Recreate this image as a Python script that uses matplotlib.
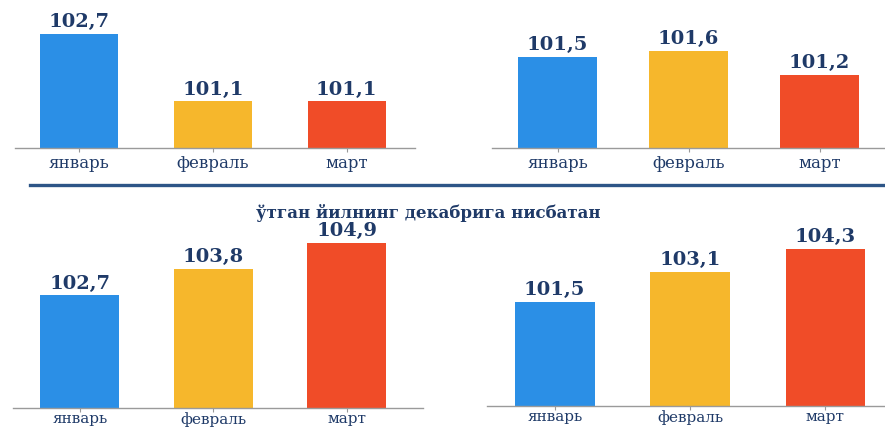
import matplotlib.pyplot as plt
from matplotlib.lines import Line2D

# данные
months = ["январь", "февраль", "март"]
tl_vals = [102.7, 101.1, 101.1]   # верх слева
tr_vals = [101.5, 101.6, 101.2]   # верх справа
bl_vals = [102.7, 103.8, 104.9]   # низ слева
br_vals = [101.5, 103.1, 104.3]   # низ справа
title_mid = "ўтган йилнинг декабрига нисбатан"

colors = ["#2b8fe6", "#f6b72c", "#f04c28"]
navy = "#1f3a68"
W, H = 885, 429

fig = plt.figure(figsize=(W / 100, H / 100), dpi=100)


def px_axes(x0, x1, y_top, y_base):
    # прямоугольник осей в пикселях -> доли фигуры
    return fig.add_axes([x0 / W, 1 - y_base / H, (x1 - x0) / W, (y_base - y_top) / H])


def panel(ax, vals, ylim, xlim, width, lab_size=12, pad=2):
    x = range(len(vals))
    ax.bar(x, [v - ylim[0] for v in vals], bottom=ylim[0], width=width, color=colors)
    for xi, v in zip(x, vals):
        ax.annotate(f"{v:.1f}".replace(".", ","), (xi, v), xytext=(0, 2),
                    textcoords="offset points", ha="center", va="bottom",
                    fontsize=14, fontweight="bold", family="DejaVu Serif", color=navy)
    ax.set_ylim(*ylim)
    ax.set_xlim(*xlim)
    ax.set_xticks(list(x))
    ax.set_xticklabels(months, family="DejaVu Serif", fontsize=lab_size, color=navy)
    ax.tick_params(axis="x", length=3, color="#999999", pad=pad)
    ax.set_yticks([])
    for s in ["top", "left", "right"]:
        ax.spines[s].set_visible(False)
    ax.spines["bottom"].set_color("#9a9a9a")
    ax.spines["bottom"].set_linewidth(1.0)
    ax.set_facecolor("none")


# верхний ряд
ax1 = px_axes(15, 415, 0, 148)
panel(ax1, tl_vals, (100, 103.5), (-0.48, 2.51), 0.58)

ax2 = px_axes(492, 885, 0, 148)
panel(ax2, tr_vals, (100, 102.43), (-0.5, 2.5), 0.6)

# нижний ряд
ax3 = px_axes(13, 423, 225, 408)
panel(ax3, bl_vals, (98, 105.63), (-0.5, 2.57), 0.59, lab_size=11, pad=0)

ax4 = px_axes(487, 885, 225, 406)
panel(ax4, br_vals, (96, 105.58), (-0.5, 2.44), 0.59, lab_size=11, pad=0)

# разделительная линия и подзаголовок
fig.add_artist(Line2D([30 / W, 1], [1 - 185 / H] * 2, color="#2d5587", lw=2.4))
fig.text(428 / W, 1 - 213 / H, title_mid, ha="center", va="center",
         family="DejaVu Serif", fontweight="bold", fontsize=12, color=navy)

fig.savefig("out.png", dpi=100)
